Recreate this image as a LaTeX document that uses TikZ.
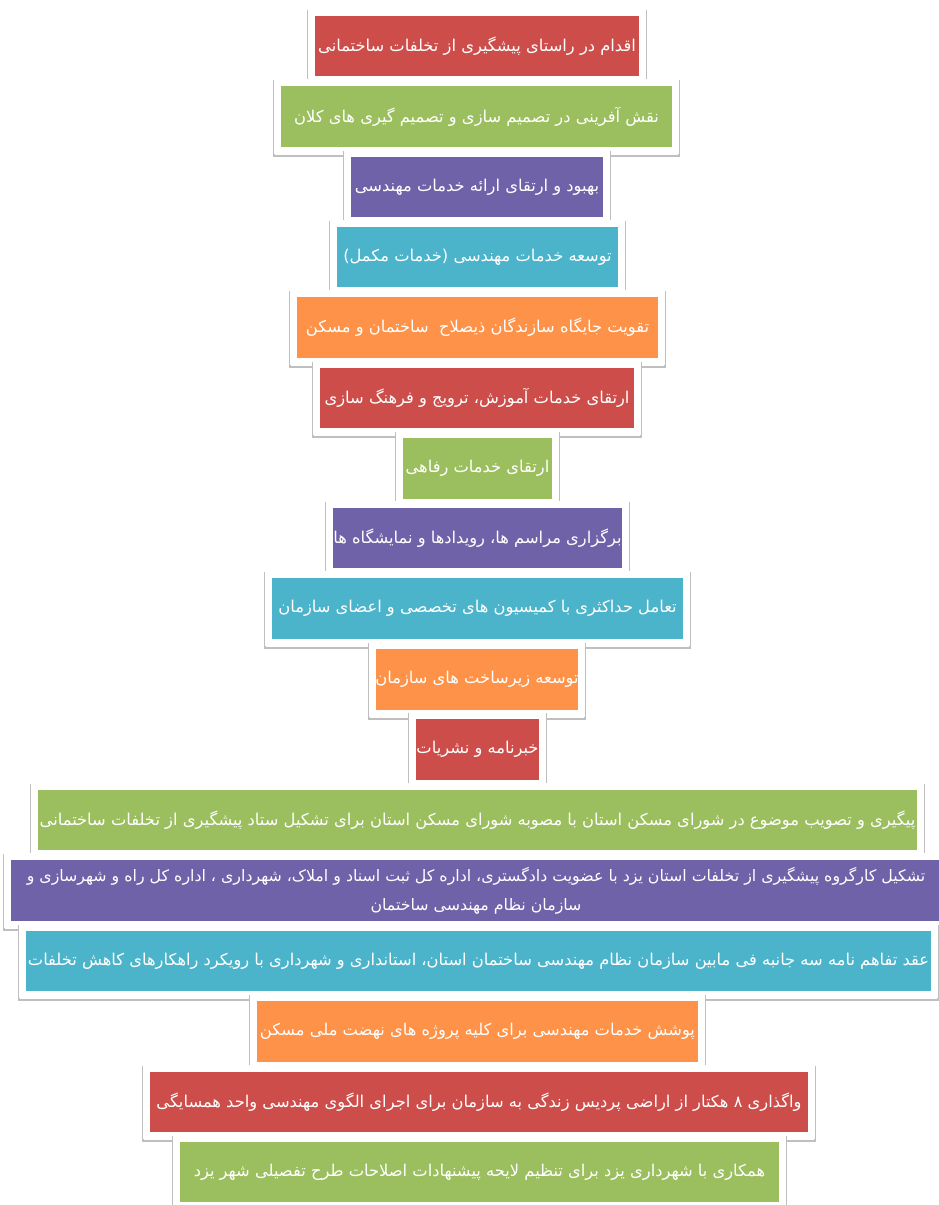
\documentclass[tikz,border=0pt]{standalone}
\usepackage{fontspec}
\usepackage{xcolor}
\usepackage{tikz}
\usetikzlibrary{calc}
\newfontfamily\arabicfont[Script=Arabic]{DejaVu Sans}
\TeXXeTstate=1
\definecolor{boxred}{HTML}{CD4D4A}
\definecolor{boxgreen}{HTML}{9BBF5E}
\definecolor{boxpurple}{HTML}{6F62A8}
\definecolor{boxcyan}{HTML}{4BB4CA}
\definecolor{boxorange}{HTML}{FD9248}

\begin{document}
\begin{tikzpicture}[x=1pt,y=-1pt,font=\arabicfont\fontsize{16.3}{29}\selectfont,
   bx/.style={fill=white,text=white,align=center,inner sep=0pt,
     preaction={draw=black!25,line width=2pt,transform canvas={yshift=-1.6pt}},
     path picture={\fill[#1] ($(path picture bounding box.south west)+(7pt,7pt)$)
       rectangle ($(path picture bounding box.north east)+(-7pt,-7pt)$);}}]
  \useasboundingbox (0,0) rectangle (938,1205);
  \node[bx=boxred,minimum width=338pt,minimum height=74pt] (prevent) at (477,46)
    {\beginR اقدام در راستای پیشگیری از تخلفات ساختمانی\endR};
  \node[bx=boxgreen,minimum width=405pt,minimum height=75pt] (policy) at (476.5,116.5)
    {\beginR نقش آفرینی در تصمیم سازی و تصمیم گیری های کلان\endR};
  \node[bx=boxpurple,minimum width=266pt,minimum height=74pt] (improve) at (477,187)
    {\beginR بهبود و ارتقای ارائه خدمات مهندسی\endR};
  \node[bx=boxcyan,minimum width=295pt,minimum height=74pt] (extra) at (477.5,257)
    {\beginR توسعه خدمات مهندسی (خدمات مکمل)\endR};
  \node[bx=boxorange,minimum width=375pt,minimum height=75pt] (builders) at (477.5,327.5)
    {\beginR تقویت جایگاه سازندگان ذیصلاح\ \ ساختمان و مسکن\endR};
  \node[bx=boxred,minimum width=328pt,minimum height=74pt] (training) at (477,398)
    {\beginR ارتقای خدمات آموزش، ترویج و فرهنگ سازی\endR};
  \node[bx=boxgreen,minimum width=163pt,minimum height=75pt] (welfare) at (477.5,468.5)
    {\beginR ارتقای خدمات رفاهی\endR};
  \node[bx=boxpurple,minimum width=303pt,minimum height=74pt] (events) at (477.5,538)
    {\beginR برگزاری مراسم ها، رویدادها و نمایشگاه ها\endR};
  \node[bx=boxcyan,minimum width=425pt,minimum height=75pt] (members) at (477.5,608.5)
    {\beginR تعامل حداکثری با کمیسیون های تخصصی و اعضای سازمان\endR};
  \node[bx=boxorange,minimum width=216pt,minimum height=75pt] (infra) at (477,679.5)
    {\beginR توسعه زیرساخت های سازمان\endR};
  \node[bx=boxred,minimum width=137pt,minimum height=75pt] (news) at (477.5,749.5)
    {\beginR خبرنامه و نشریات\endR};
  % lower boxes are the wide ones
  \node[bx=boxgreen,minimum width=893pt,minimum height=74pt] (council) at (477.5,820)
    {\beginR پیگیری و تصویب موضوع در شورای مسکن استان با مصوبه شورای مسکن استان برای تشکیل ستاد پیشگیری از تخلفات ساختمانی\endR};
  \node[bx=boxpurple,minimum width=945pt,minimum height=75pt,
        font=\arabicfont\fontsize{15.8}{29}\selectfont] (taskforce) at (476,890.5)
    {\beginR تشکیل کارگروه پیشگیری از تخلفات استان یزد با عضویت دادگستری، اداره کل ثبت اسناد و املاک، شهرداری ، اداره کل راه و شهرسازی و\endR\\
     \beginR سازمان نظام مهندسی ساختمان\endR};
  \node[bx=boxcyan,minimum width=919pt,minimum height=74pt] (memo) at (478.5,961)
    {\beginR عقد تفاهم نامه سه جانبه فی مابین سازمان نظام مهندسی ساختمان استان، استانداری و شهرداری با رویکرد راهکارهای کاهش تخلفات\endR};
  \node[bx=boxorange,minimum width=455pt,minimum height=75pt] (housing) at (477.5,1031.5)
    {\beginR پوشش خدمات مهندسی برای کلیه پروژه های نهضت ملی مسکن\endR};
  \node[bx=boxred,minimum width=672pt,minimum height=74pt] (land) at (479,1102)
    {\beginR واگذاری ۸ هکتار از اراضی پردیس زندگی به سازمان برای اجرای الگوی مهندسی واحد همسایگی\endR};
  \node[bx=boxgreen,minimum width=613pt,minimum height=74pt] (citydraft) at (479.5,1172)
    {\beginR همکاری با شهرداری یزد برای تنظیم لایحه پیشنهادات اصلاحات طرح تفصیلی شهر یزد\endR};
\end{tikzpicture}
\end{document}
